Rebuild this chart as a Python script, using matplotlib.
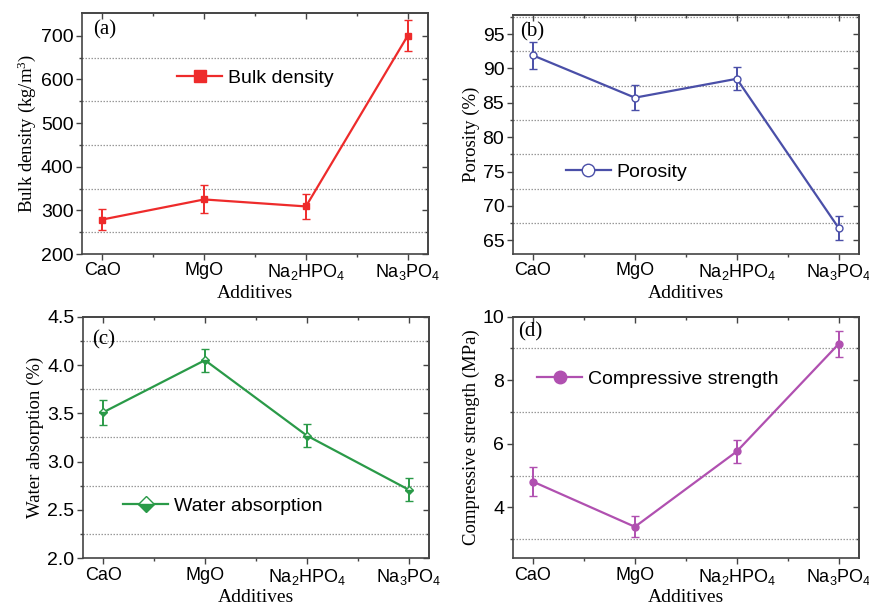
import matplotlib
matplotlib.use("Agg")
import matplotlib.pyplot as plt
from matplotlib.ticker import FixedLocator, MultipleLocator
from matplotlib.lines import Line2D
import numpy as np

plt.rcParams['font.family'] = ['Liberation Sans', 'DejaVu Sans']
plt.rcParams['mathtext.default'] = 'regular'

categories = ['CaO', 'MgO', 'Na$_2$HPO$_4$', 'Na$_3$PO$_4$']

bulk_density = [279, 325, 309, 700]
bulk_density_err = [25, 32, 28, 35]

porosity = [91.9, 85.75, 88.5, 66.8]
porosity_err = [2.0, 1.8, 1.7, 1.8]

water_absorption = [3.51, 4.05, 3.27, 2.71]
water_absorption_err = [0.13, 0.12, 0.12, 0.12]

compressive_strength = [4.81, 3.39, 5.76, 9.14]
compressive_strength_err = [0.45, 0.33, 0.35, 0.41]

fig = plt.figure(figsize=(8.7, 6.1), dpi=100)

x = np.arange(len(categories))

panels = [
    dict(pos=[0.0943, 0.5836, 0.3977, 0.395], y=bulk_density, e=bulk_density_err,
         color='#ee2b2b', marker='s', ms=5, mfc='#ee2b2b', fill='full',
         label='Bulk density', ylabel='Bulk density (kg/m$^3$)',
         ylim=(200, 752), major=100, grid=[250, 350, 450, 550, 650],
         leg=(0.275, 0.73), tag='(a)', tagpos=(0.033, 0.93)),
    dict(pos=[0.5893, 0.5836, 0.398, 0.392], y=porosity, e=porosity_err,
         color='#4a4fa8', marker='o', ms=5, mfc='white', fill='full',
         label='Porosity', ylabel='Porosity (%)',
         ylim=(63, 97.8), major=5, grid=[67.5, 72.5, 77.5, 82.5, 87.5, 92.5, 97.5],
         leg=(0.154, 0.344), tag='(b)', tagpos=(0.021, 0.929)),
    dict(pos=[0.0951, 0.0848, 0.398, 0.396], y=water_absorption, e=water_absorption_err,
         color='#2a9a48', marker='D', ms=4.5, mfc='#2a9a48', fill='bottom',
         label='Water absorption', ylabel='Water absorption (%)',
         ylim=(2.0, 4.5), major=0.5, grid=[2.25, 2.75, 3.25, 3.75, 4.25],
         leg=(0.117, 0.216), tag='(c)', tagpos=(0.026, 0.904)),
    dict(pos=[0.5893, 0.0848, 0.398, 0.396], y=compressive_strength, e=compressive_strength_err,
         color='#b050b0', marker='o', ms=5, mfc='#b050b0', fill='full',
         label='Compressive strength', ylabel='Compressive strength (MPa)',
         ylim=(2.4, 10), major=2, grid=[3, 5, 7, 9],
         leg=(0.071, 0.741), tag='(d)', tagpos=(0.015, 0.937)),
]

spine_color = '#444444'

for p in panels:
    ax = fig.add_axes(p['pos'])
    ax.errorbar(x, p['y'], yerr=p['e'], color=p['color'], lw=1.6,
                marker=p['marker'], ms=p['ms'], mfc=p['mfc'], mec=p['color'],
                mew=1.0, fillstyle=p['fill'], markerfacecoloralt='white',
                capsize=3.2, capthick=1.4, elinewidth=1.4)
    ax.set_xlim(-0.2, 3.2)
    ax.set_ylim(*p['ylim'])
    ax.set_xticks(x)
    ax.set_xticklabels(categories)
    ax.xaxis.set_minor_locator(FixedLocator([0.5, 1.5, 2.5]))
    ax.yaxis.set_major_locator(MultipleLocator(p['major']))
    ax.yaxis.set_minor_locator(FixedLocator(p['grid']))
    ax.yaxis.grid(True, which='minor', linestyle=(0, (1.2, 1.2)), color='#999999', lw=0.9)
    ax.tick_params(axis='both', which='major', direction='out', length=4, width=1,
                   color=spine_color, pad=2)
    ax.tick_params(axis='x', which='major', labelsize=13)
    ax.tick_params(axis='y', which='major', labelsize=14)
    ax.tick_params(axis='both', which='minor', direction='out', length=2.5, width=1,
                   color=spine_color)
    for s in ax.spines.values():
        s.set_color(spine_color)
        s.set_linewidth(1.2)

    # mirrored inward ticks on top and right
    tx = ax.secondary_xaxis('top')
    tx.set_xticks(x)
    tx.xaxis.set_minor_locator(FixedLocator([0.5, 1.5, 2.5]))
    tx.tick_params(which='major', direction='in', length=4, width=1, labeltop=False, color=spine_color)
    tx.tick_params(which='minor', direction='in', length=2.5, width=1, color=spine_color)
    tx.spines['top'].set_color(spine_color)
    tx.spines['top'].set_linewidth(1.2)
    ry = ax.secondary_yaxis('right')
    ry.yaxis.set_major_locator(MultipleLocator(p['major']))
    ry.yaxis.set_minor_locator(FixedLocator(p['grid']))
    ry.tick_params(which='major', direction='in', length=4, width=1, labelright=False, color=spine_color)
    ry.tick_params(which='minor', direction='in', length=2.5, width=1, color=spine_color)
    ry.spines['right'].set_color(spine_color)
    ry.spines['right'].set_linewidth(1.2)

    ax.set_xlabel('Additives', family=['Liberation Serif'], fontsize=14, labelpad=2)
    ax.set_ylabel(p['ylabel'], family=['Liberation Serif'], fontsize=13.5, labelpad=2)
    ax.text(p['tagpos'][0], p['tagpos'][1], p['tag'], transform=ax.transAxes,
            family=['Liberation Serif'], fontsize=15, ha='left', va='center')

    proxy = Line2D([], [], color=p['color'], lw=1.6, marker=p['marker'],
                   ms=p['ms'] * 1.8, mfc=p['mfc'], mec=p['color'], mew=1.0,
                   fillstyle=p['fill'], markerfacecoloralt='white')
    ax.legend(handles=[proxy], labels=[p['label']], loc='center left', bbox_to_anchor=p['leg'],
              frameon=False, fontsize=14, handlelength=2.3, handletextpad=0.3,
              borderaxespad=0, borderpad=0)

fig.savefig('out.png', dpi=100)
